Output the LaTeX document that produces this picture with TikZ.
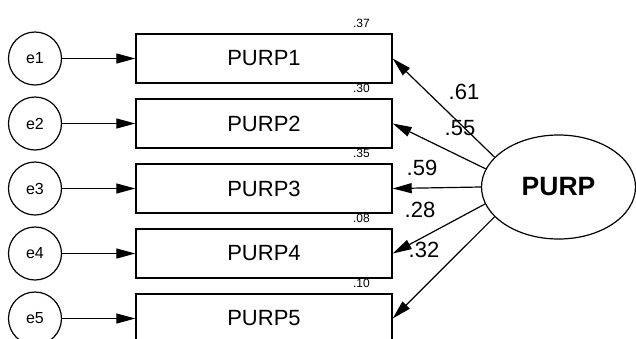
\documentclass[tikz,border=0pt]{standalone}
\usepackage{fontspec}
\setmainfont{Liberation Sans}
\usetikzlibrary{arrows.meta,shapes.geometric}
\begin{document}
\begin{tikzpicture}[x=1pt,y=-1pt,
  obs/.style={draw, line width=1.4pt, minimum width=256pt, minimum height=49pt, inner sep=0pt, font=\fontsize{22}{24}\selectfont},
  err/.style={draw, circle, line width=1.2pt, minimum size=53pt, inner sep=0pt, font=\fontsize{16}{18}\selectfont},
  lat/.style={draw, ellipse, line width=1.2pt, minimum width=154pt, minimum height=104pt, inner sep=0pt, font=\bfseries\fontsize{26.5}{30}\selectfont},
  rsq/.style={anchor=east, inner sep=0pt, font=\fontsize{12}{13}\selectfont},
  coef/.style={inner sep=0pt, font=\fontsize{22}{24}\selectfont},
  arr/.style={line width=1.2pt, -{Triangle[length=19pt,width=10pt]}}]
\useasboundingbox (0,0) rectangle (636,338);
\foreach \i/\y in {1/58.5,2/123.5,3/188.5,4/253.5,5/318.5}{
  \node[obs] (p\i) at (264,\y) {PURP\i};
  \node[err] (e\i) at (35,\y) {e\i};
  \draw[arr] (e\i) -- (p\i);
}
\node[rsq] (r1) at (370,23) {.37};
\node[rsq] (r2) at (370,88) {.30};
\node[rsq] (r3) at (370,153) {.35};
\node[rsq] (r4) at (370,218) {.08};
\node[rsq] (r5) at (370,283) {.10};
\node[lat] (f) at (558.5,187) {PURP};
\draw[arr] (f.155) -- (p1.east);
\draw[arr] (f.166.5) -- (p2.east);
\draw[arr] (f.180) -- (p3.east);
\draw[arr] (f.193.3) -- (p4.east);
\draw[arr] (f.205) -- (p5.east);
\node[coef] (c1) at (464,92) {.61};
\node[coef] (c2) at (460,128) {.55};
\node[coef] (c3) at (422,168) {.59};
\node[coef] (c4) at (420,210) {.28};
\node[coef] (c5) at (424,250) {.32};
\end{tikzpicture}
\end{document}
